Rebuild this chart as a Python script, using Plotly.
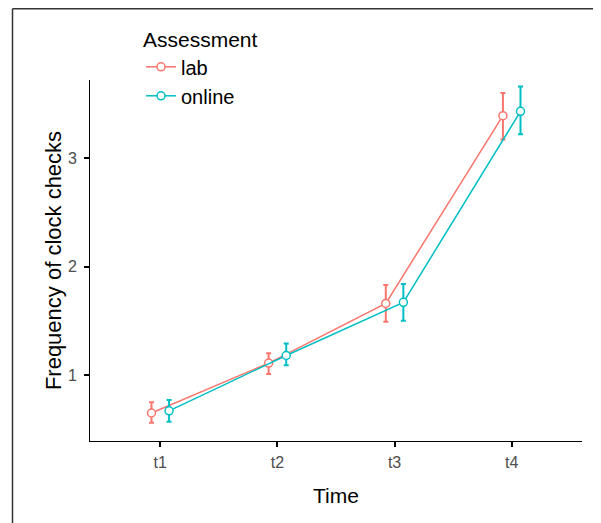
import plotly.graph_objects as go

# ---- data ----
time_labels = ["t1", "t2", "t3", "t4"]
lab_mean = [0.65, 1.11, 1.66, 3.39]
lab_lo = [0.56, 1.01, 1.49, 3.17]
lab_hi = [0.75, 1.20, 1.83, 3.60]
online_mean = [0.67, 1.18, 1.67, 3.43]
online_lo = [0.57, 1.09, 1.50, 3.22]
online_hi = [0.77, 1.29, 1.84, 3.66]

RED = "#F8766D"
CYAN = "#00BFC4"
FONT = "Arial, Liberation Sans, sans-serif"
dodge = 0.075

fig = go.Figure()

def add_series(name, mean, lo, hi, color, offset):
    xs = [i + offset for i in range(len(time_labels))]
    fig.add_trace(go.Scatter(
        x=xs, y=mean, name=name, mode="lines+markers",
        line=dict(color=color, width=1.5),
        marker=dict(symbol="circle", size=8, color="white",
                    line=dict(color=color, width=1.5)),
        error_y=dict(type="data", symmetric=False,
                     array=[h - m for h, m in zip(hi, mean)],
                     arrayminus=[m - l for m, l in zip(mean, lo)],
                     color=color, thickness=2, width=2.5),
    ))

add_series("lab", lab_mean, lab_lo, lab_hi, RED, -dodge)
add_series("online", online_mean, online_lo, online_hi, CYAN, dodge)

# page body adds an 8px margin, so the figure is sized/placed to compensate
W, H = 593, 515
L, R, T, B = 82, 19, 72, 82
pw, ph = W - L - R, H - T - B

def px_x(p):
    return (p - L) / pw

def px_y(p):
    return (H - B - p) / ph

# outer frame (left and top edges visible in reference)
fig.add_shape(type="line", xref="paper", yref="paper",
              x0=px_x(4.5), x1=px_x(W + 5), y0=px_y(0.75), y1=px_y(0.75),
              line=dict(color="#333333", width=1.5))
fig.add_shape(type="line", xref="paper", yref="paper",
              x0=px_x(4.5), x1=px_x(4.5), y0=px_y(0.75), y1=px_y(H + 5),
              line=dict(color="#333333", width=1.5))

fig.update_layout(
    width=W, height=H,
    margin=dict(l=L, r=R, t=T, b=B, autoexpand=False),
    paper_bgcolor="white", plot_bgcolor="white",
    font=dict(family=FONT, color="black"),
    showlegend=True,
    legend=dict(
        title=dict(text="Assessment", font=dict(size=21, family=FONT, color="black")),
        font=dict(size=20, family=FONT, color="black"),
        x=px_x(133), y=px_y(12), xanchor="left", yanchor="top",
        bgcolor="rgba(0,0,0,0)", tracegroupgap=0, itemwidth=30,
    ),
    xaxis=dict(
        range=[-0.6, 3.6], automargin=False,
        tickmode="array", tickvals=list(range(len(time_labels))), ticktext=time_labels,
        showgrid=False, zeroline=False,
        showline=True, linecolor="black", linewidth=1,
        ticks="outside", ticklen=5, tickcolor="black", tickwidth=1.5,
        ticklabelstandoff=2,
        tickfont=dict(size=16, color="#4D4D4D", family=FONT),
        title=dict(text="Time", font=dict(size=21, color="black", family=FONT), standoff=18),
    ),
    yaxis=dict(
        range=[0.392, 3.719], automargin=False,
        tickmode="array", tickvals=[1, 2, 3], ticktext=["1", "2", "3"],
        showgrid=False, zeroline=False,
        showline=True, linecolor="black", linewidth=1,
        ticks="outside", ticklen=5, tickcolor="black", tickwidth=1.5,
        ticklabelstandoff=4,
        tickfont=dict(size=16, color="#4D4D4D", family=FONT),
        title=dict(text="Frequency of clock checks", font=dict(size=22, color="black", family=FONT), standoff=0),
    ),
)

fig.write_html("out.html")
